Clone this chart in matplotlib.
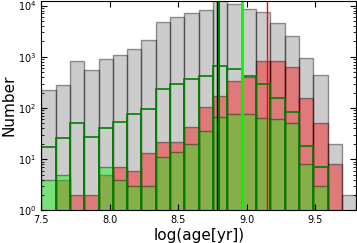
"""
Age histogram, log(age) with three subsets and marker lines.
"""
import numpy as np
import matplotlib
matplotlib.use("Agg")
import matplotlib.pyplot as plt

# bins in log(age[yr])
binEdges = np.linspace(7.5, 9.8, 23)
binCenters = 0.5 * (binEdges[1:] + binEdges[:-1])

# counts per bin
allCounts = [223, 279, 809, 548, 898, 1060, 1420, 2110, 4790, 5910, 7300,
             8360, 13500, 10900, 8450, 7400, 4540, 2600, 960, 437, 20, 2]
redCounts = [0, 4, 2, 2, 5, 7, 6, 13, 22, 22, 42,
             103, 173, 340, 400, 820, 830, 635, 158, 52, 8, 0]
greenCounts = [4, 5, 0, 0, 7, 4, 3, 3, 11, 14, 20,
               35, 66, 75, 75, 63, 61, 50, 8, 3, 0, 0]
outlineCounts = [17, 26, 52, 27, 41, 54, 77, 97, 234, 292, 371,
                 425, 664, 573, 420, 300, 158, 82, 18, 7, 0, 0]

# marker ages
blackAge = 8.78
darkGreenAge = 8.797
limeAge = 8.963
redAge = 9.15

xTicks = [7.5, 8.0, 8.5, 9.0, 9.5]
xTickLabels = ["7.5", "8.0", "8.5", "9.0", "9.5"]


def main():
    fig = plt.figure(figsize=(3.57, 2.43), dpi=100)
    ax = fig.add_axes([0.1157, 0.134, 0.882, 0.863])

    ax.hist(binCenters, bins=binEdges, weights=allCounts, log=True,
            color="gray", alpha=0.4, edgecolor="k", linewidth=1)
    ax.hist(binCenters, bins=binEdges, weights=redCounts, log=True,
            color="red", alpha=0.4, edgecolor="k", linewidth=1)
    ax.hist(binCenters, bins=binEdges, weights=greenCounts, log=True,
            color="lime", alpha=0.4, edgecolor="k", linewidth=1)
    ax.hist(binCenters, bins=binEdges, weights=outlineCounts, log=True,
            histtype="bar", fill=False, edgecolor="green", linewidth=1.2)

    ax.axvline(blackAge, color="k", linewidth=1)
    ax.axvline(darkGreenAge, color="green", linewidth=1.5)
    ax.axvline(limeAge, color="lime", linewidth=2)
    ax.axvline(redAge, color="red", linewidth=1)

    ax.set_xlim(7.5, 9.8)
    ax.set_ylim(1, 10 ** 4.094)
    ax.set_xticks(xTicks)
    ax.set_xticklabels(xTickLabels)
    ax.tick_params(which="both", direction="in", top=True, right=True,
                   labelsize=7)
    ax.tick_params(which="major", length=4)
    ax.tick_params(which="minor", length=2)

    ax.set_xlabel("log(age[yr])", fontsize=11, labelpad=2)
    ax.set_ylabel("Number", fontsize=11, labelpad=1)

    fig.savefig("out.png", dpi=100)
    plt.close(fig)


if __name__ == "__main__":
    main()
